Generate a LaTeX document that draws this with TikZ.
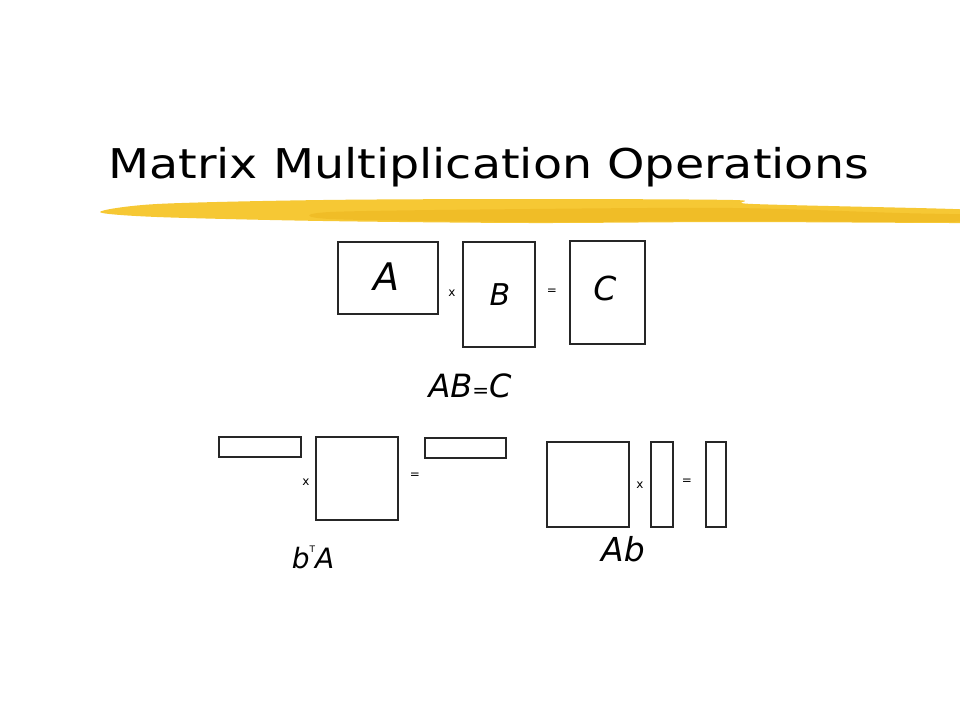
\documentclass[tikz,border=0pt]{standalone}
\usepackage{fontspec}
\setmainfont{DejaVu Sans}
\newfontfamily\handfont{DejaVu Sans}
\definecolor{brushA}{RGB}{246,200,52}
\definecolor{brushB}{RGB}{236,180,30}
\tikzset{
  mat/.style={draw=black!85, line width=1.2pt},
  op/.style={font=\fontsize{12}{12}\selectfont, inner sep=0pt},
  lbl/.style={font=\handfont\itshape, inner sep=0pt, anchor=base},
}
\begin{document}
\begin{tikzpicture}[x=1pt,y=-1pt]
\useasboundingbox[fill=white] (0,0) rectangle (960,720);
% brush stroke
\fill[brushA] plot[smooth cycle, tension=0.5] coordinates {(100,212) (157,204) (323,200) (530,199) (733,200) (753,204) (953,209) (975,212) (975,222) (953,223) (733,222) (530,223) (323,221) (157,217)};
\fill[brushB, opacity=0.55] plot[smooth cycle, tension=0.5] coordinates {(330,212) (530,209) (733,208) (900,213) (975,215) (975,221) (900,222) (733,221) (530,222) (330,219)};
% title
\node[anchor=base west, inner sep=0pt, font=\fontsize{41}{41}\selectfont] (title) at (108,178) {\scalebox{1.16}[1]{Matrix Multiplication Operations}};
% AB = C
\draw[mat] (338,242) rectangle (438,314) node[pos=0.5] (boxA) {};
\draw[mat] (463,242) rectangle (535,347) node[pos=0.5] (boxB) {};
\draw[mat] (570,241) rectangle (645,344) node[pos=0.5] (boxC) {};
\node[lbl, font=\handfont\itshape\fontsize{38}{38}\selectfont] (la) at (386,290) {A};
\node[lbl, font=\handfont\itshape\fontsize{30}{30}\selectfont] (lb) at (500,305) {B};
\node[lbl, font=\handfont\itshape\fontsize{33}{33}\selectfont] (lc) at (605,300) {C};
\node[op] (x1) at (452,293) {x};
\node[op] (e1) at (552,292) {=};
\node[lbl, font=\handfont\itshape\fontsize{32}{32}\selectfont] (eq1) at (470,397) {AB{\upshape\fontsize{20}{20}\selectfont =}C};
% b^T A
\draw[mat] (219,437) rectangle (301,457) node[pos=0.5] (bt) {};
\draw[mat] (316,437) rectangle (398,520) node[pos=0.5] (sqA) {};
\draw[mat] (425,438) rectangle (506,458) node[pos=0.5] (res1) {};
\node[op] (x2) at (306,482) {x};
\node[op] (e2) at (415,476) {=};
\node[lbl, font=\handfont\itshape\fontsize{28}{28}\selectfont] (eq2) at (313,568) {b\raisebox{0.55em}{\upshape\fontsize{9}{9}\selectfont T}A};
% A b
\draw[mat] (547,442) rectangle (629,527) node[pos=0.5] (sqB) {};
\draw[mat] (651,442) rectangle (673,527) node[pos=0.5] (bcol) {};
\draw[mat] (706,442) rectangle (726,527) node[pos=0.5] (res2) {};
\node[op] (x3) at (640,485) {x};
\node[op] (e3) at (687,482) {=};
\node[lbl, font=\handfont\itshape\fontsize{33}{33}\selectfont] (eq3) at (623,561) {Ab};
\end{tikzpicture}
\end{document}
